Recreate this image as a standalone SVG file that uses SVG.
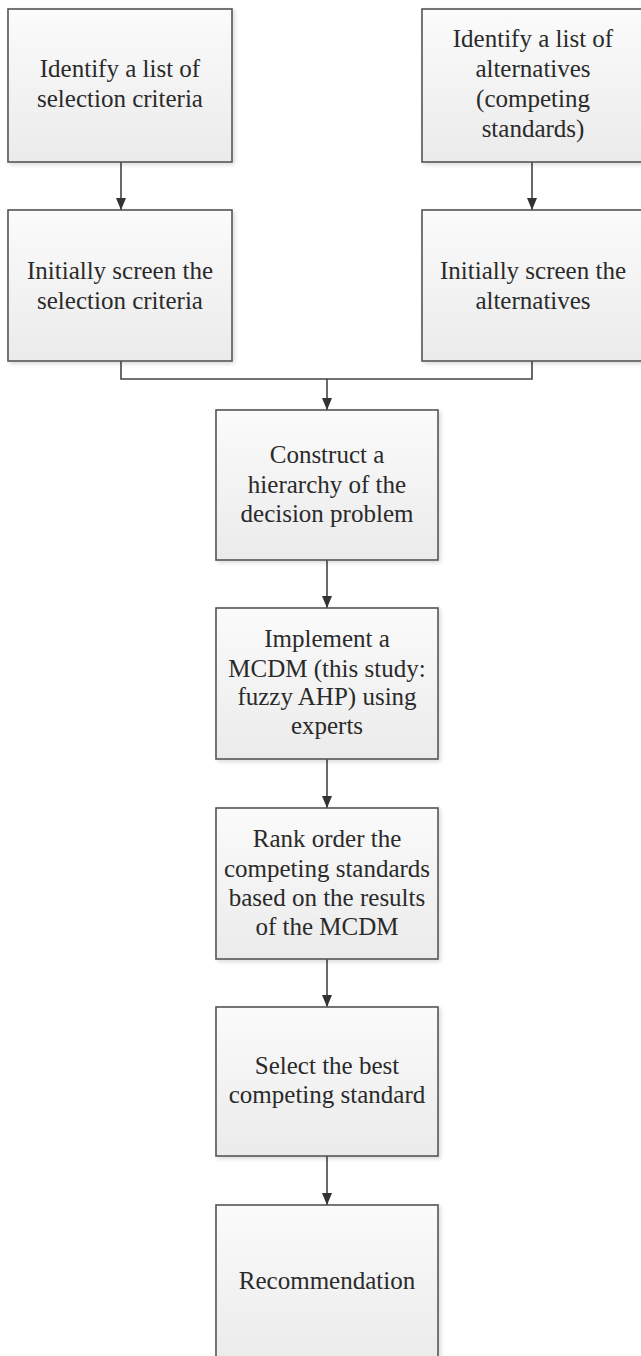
<svg xmlns="http://www.w3.org/2000/svg" width="641" height="1356" viewBox="0 0 641 1356">
<defs>
<linearGradient id="g" x1="0" y1="0" x2="0" y2="1">
<stop offset="0" stop-color="#fbfbfb"/>
<stop offset="1" stop-color="#ebebeb"/>
</linearGradient>
<filter id="sh" x="-10%" y="-10%" width="120%" height="120%">
<feGaussianBlur in="SourceAlpha" stdDeviation="2"/>
<feOffset dx="2" dy="2"/>
<feComponentTransfer><feFuncA type="linear" slope="0.15"/></feComponentTransfer>
<feMerge><feMergeNode/><feMergeNode in="SourceGraphic"/></feMerge>
</filter>
<marker id="ah" viewBox="0 0 12 10" refX="12" refY="5" markerWidth="12" markerHeight="10" markerUnits="userSpaceOnUse" orient="auto">
<path d="M0,0 L12,5 L0,10 Z" fill="#333"/>
</marker>
</defs>
<style>
.box{fill:url(#g);stroke:#555;stroke-width:1.6;filter:url(#sh)}
.t{font-family:"Liberation Serif","Times New Roman",serif;font-size:25px;fill:#2a2a2a;text-anchor:middle}
.c{fill:none;stroke:#444;stroke-width:1.6}
</style>
<rect width="641" height="1356" fill="#fff"/>
<g id="connectors">
<line class="c" x1="121" y1="162" x2="121" y2="210" marker-end="url(#ah)"/>
<line class="c" x1="532" y1="162" x2="532" y2="210" marker-end="url(#ah)"/>
<polyline class="c" points="121,361 121,379 532,379 532,361"/>
<line class="c" x1="327" y1="379" x2="327" y2="410" marker-end="url(#ah)"/>
<line class="c" x1="327" y1="560" x2="327" y2="608" marker-end="url(#ah)"/>
<line class="c" x1="327" y1="759" x2="327" y2="808" marker-end="url(#ah)"/>
<line class="c" x1="327" y1="959" x2="327" y2="1007" marker-end="url(#ah)"/>
<line class="c" x1="327" y1="1156" x2="327" y2="1205" marker-end="url(#ah)"/>
</g>
<g id="n1">
<rect class="box" x="8" y="9" width="224" height="153"/>
<text class="t" x="120" y="77">Identify a list of</text>
<text class="t" x="120" y="107">selection criteria</text>
</g>
<g id="n2">
<rect class="box" x="422" y="9" width="224" height="153"/>
<text class="t" x="533" y="47">Identify a list of</text>
<text class="t" x="533" y="77">alternatives</text>
<text class="t" x="533" y="107">(competing</text>
<text class="t" x="533" y="137">standards)</text>
</g>
<g id="n3">
<rect class="box" x="8" y="210" width="224" height="151"/>
<text class="t" x="120" y="279">Initially screen the</text>
<text class="t" x="120" y="309">selection criteria</text>
</g>
<g id="n4">
<rect class="box" x="422" y="210" width="224" height="151"/>
<text class="t" x="533" y="279">Initially screen the</text>
<text class="t" x="533" y="309">alternatives</text>
</g>
<g id="n5">
<rect class="box" x="216" y="410" width="222" height="150"/>
<text class="t" x="327" y="463">Construct a</text>
<text class="t" x="327" y="493">hierarchy of the</text>
<text class="t" x="327" y="522">decision problem</text>
</g>
<g id="n6">
<rect class="box" x="216" y="608" width="222" height="151"/>
<text class="t" x="327" y="647">Implement a</text>
<text class="t" x="327" y="677">MCDM (this study:</text>
<text class="t" x="327" y="705">fuzzy AHP) using</text>
<text class="t" x="327" y="734">experts</text>
</g>
<g id="n7">
<rect class="box" x="216" y="808" width="222" height="151"/>
<text class="t" x="327" y="847">Rank order the</text>
<text class="t" x="327" y="877">competing standards</text>
<text class="t" x="327" y="906">based on the results</text>
<text class="t" x="327" y="935">of the MCDM</text>
</g>
<g id="n8">
<rect class="box" x="216" y="1007" width="222" height="149"/>
<text class="t" x="327" y="1074">Select the best</text>
<text class="t" x="327" y="1103">competing standard</text>
</g>
<g id="n9">
<rect class="box" x="216" y="1205" width="222" height="155"/>
<text class="t" x="327" y="1289">Recommendation</text>
</g>
</svg>
